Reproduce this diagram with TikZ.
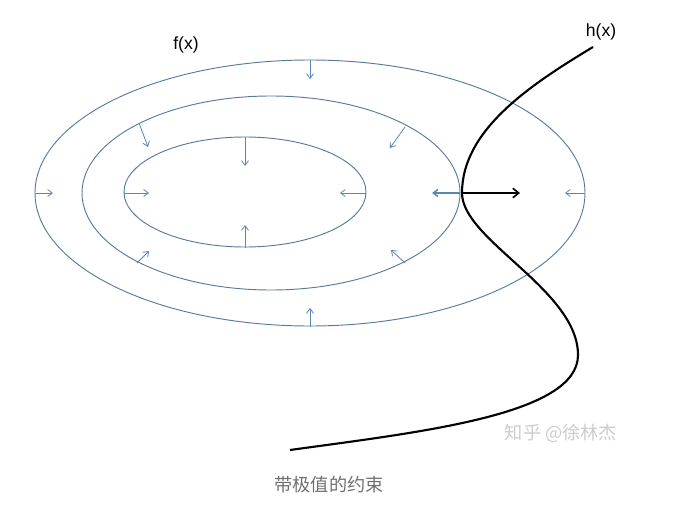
\documentclass[tikz,border=0pt]{standalone}
\usepackage{fontspec}
\setsansfont{Liberation Sans}
\newfontfamily\cjk{Noto Sans CJK SC}
\usepackage{tikz}
\usetikzlibrary{arrows.meta}
\usepackage{xcolor}
\definecolor{contour}{HTML}{5A7A9C}
\definecolor{gradblue}{HTML}{5B86B4}
\definecolor{capgray}{HTML}{707070}
\definecolor{markgray}{HTML}{CCCCCC}

\begin{document}
\begin{tikzpicture}[x=0.03cm, y=-0.03cm,
  ring/.style={draw=contour, line width=0.8pt},
  grad/.style={-{Straight Barb[length=4pt, width=6pt]}, gradblue, line width=0.7pt},
  lbl/.style={font=\sffamily\fontsize{15}{18}\selectfont, inner sep=1pt},
  cjktext/.style={font=\cjk\fontsize{15.5}{19}\selectfont, inner sep=1pt},
  curve/.style={black, line width=1.8pt}
]
  \useasboundingbox (0,0) rectangle (685,510);

  % contours of f
  \draw[ring] (310,193) ellipse (275 and 133);
  \draw[ring] (271,193) ellipse (189 and 97);
  \draw[ring] (245,192) ellipse (121 and 55);

  % gradient arrows
  \foreach \xa/\ya/\xb/\yb in {310/60/310/79, 310/327/310/308, 35/193/53/193, 585/193/565/193,
      139/123/148/147, 405/127/390/148, 137/263/149/251, 405/263/391/250,
      245/137/245/166, 245/248/245/225, 124/193/149/193, 366/193/340/193}
    \draw[grad] (\xa,\ya) -- (\xb,\yb);
  \draw[grad, line width=1.3pt] (460,193) -- (432,193);

  % constraint h
  \draw[curve] (593,47) .. controls (530,85) and (462,130) .. (462,193)
    .. controls (462,240) and (578,290) .. (578,355)
    .. controls (578,415) and (420,432) .. (290,450);
  \coordinate (touch) at (462,193);
  \coordinate (push) at (520,193);
  \draw[curve, line width=1.4pt, -{Straight Barb[length=5pt, width=8pt]}] (touch) -- (push);

  % labels
  \node[lbl] (fx) at (186,45) {f(x)};
  \node[lbl] (hx) at (601,32) {h(x)};
  \node[cjktext, text=markgray] (mark) at (561,433) {知乎 @徐林杰};
  \node[cjktext, text=capgray] (cap) at (329,485) {带极值的约束};
\end{tikzpicture}
\end{document}
